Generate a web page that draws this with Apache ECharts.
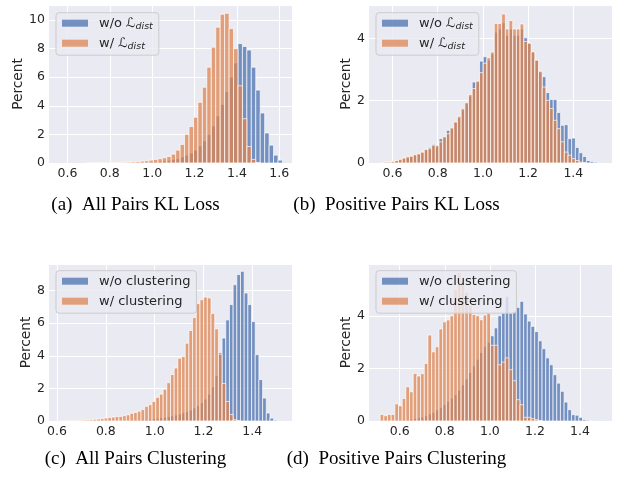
<!DOCTYPE html>
<html><head><meta charset="utf-8">
<script src="https://cdn.jsdelivr.net/npm/echarts@6/dist/echarts.min.js"></script>
<style>html,body{margin:0;padding:0;background:#fff}#c{width:641px;height:483px}</style>
</head><body><div id="c"></div>
<script>
// ---------- data (histogram bins: first bin left edge + bin width, then percent per bin) ----------
const aBinStart = 0.565, aBinWidth = 0.021;
const aWithout = [0,0,0,0,0,0,0,0.01,0.01,0.01, 0.01,0.01,0.01,0.02,0.02,0.02,0.03,0.03,0.04,0.05, 0.07,0.09,0.12,0.15,0.19,0.25,0.32,0.42,0.55,0.7, 0.9,1.2,1.55,2.0,2.6,3.3,4.1,5.0,6.0,7.0, 8.35,8.15,7.9,6.7,5.1,3.5,2.1,1.25,0.55,0.2, 0.05];
const aWith = [0,0,0,0,0,0,0.005,0.005,0.01,0.01, 0.015,0.02,0.03,0.04,0.05,0.06,0.08,0.1,0.13,0.16, 0.2,0.25,0.3,0.36,0.45,0.62,0.9,1.3,2.0,2.55, 3.2,4.25,5.3,6.7,8.1,9.5,10.4,10.47,9.4,8.0, 5.4,3.1,1.15,0.25,0.03,0,0,0,0,0, 0];

const bBinStart = 0.545, bBinWidth = 0.0163;
const bWithout = [0.01,0.02,0.03,0.04,0.07,0.1,0.15,0.18,0.21,0.25, 0.28,0.33,0.42,0.5,0.6,0.57,0.78,0.84,1.05,1.1, 1.3,1.45,1.7,1.9,2.15,2.6,2.6,3.27,3.41,3.3, 3.5,4.2,4.3,4.5,4.1,4.3,4.1,4.1,4.3,4.02, 3.85,3.55,3.3,2.95,2.77,2.26,2.04,2.04,1.62,1.21, 1.23,0.78,0.8,0.5,0.33,0.21,0.08,0.05,0.03,0.01];
const bWith = [0.02,0.03,0.03,0.05,0.08,0.12,0.16,0.2,0.22,0.27, 0.3,0.35,0.44,0.46,0.57,0.55,0.68,0.84,0.94,1.13, 1.32,1.5,1.75,1.94,2.2,2.39,2.63,2.9,3.2,3.38, 3.56,4.48,4.48,4.78,4.3,4.57,4.3,4.3,4.46,3.9, 3.84,3.57,3.3,2.93,2.44,2.01,1.75,1.37,1.1,0.68, 0.35,0.25,0.14,0.08,0.03,0.01,0,0,0,0];

const cBinStart = 0.612, cBinWidth = 0.0151;
const cWithout = [0,0,0,0,0.01,0.01,0.01,0.01,0.01,0.01, 0.01,0.02,0.02,0.02,0.02,0.03,0.03,0.04,0.05,0.06, 0.07,0.08,0.09,0.1,0.12,0.14,0.17,0.2,0.23,0.27, 0.32,0.37,0.43,0.5,0.58,0.68,0.8,0.95,1.12,1.35, 1.65,2.1,2.8,4.2,5.09,6.2,7.14,8.36,8.98,9.18, 7.85,7.14,6.1,4.07,2.54,1.41,0.49,0.18,0.05,0.01];
const cWith = [0.01,0.01,0.02,0.02,0.03,0.04,0.05,0.06,0.08,0.1, 0.12,0.15,0.18,0.21,0.24,0.27,0.28,0.33,0.38,0.47, 0.52,0.6,0.7,0.9,1.0,1.2,1.45,1.65,1.95,2.35, 2.85,3.25,3.85,3.95,4.77,5.55,6.35,7.2,7.44,7.6, 7.55,6.6,5.65,4.1,2.3,1.2,0.4,0.08,0.02,0, 0,0,0,0,0,0,0,0,0,0];

const dBinStart = 0.513, dBinWidth = 0.01633;
const dWithout = [0,0,0.01,0.01,0.02,0.03,0.04,0.05,0.07,0.09, 0.12,0.15,0.2,0.27,0.33,0.42,0.52,0.62,0.75,0.87, 1.0,1.18,1.38,1.6,1.85,2.1,2.35,2.6,2.84,3.0, 3.24,3.54,4.0,4.1,4.74,4.1,4.17,4.32,4.55,4.07, 3.8,3.6,3.4,3.05,2.75,2.4,2.14,1.76,1.44,1.13, 0.72,0.43,0.24,0.22,0.14,0.05,0.03,0.01,0,0];
const dWith = [0.25,0.2,0.25,0.25,0.65,0.58,0.86,1.3,1.11,1.81, 1.71,1.8,2.19,3.27,2.63,2.82,3.5,3.77,3.84,4.0, 5.0,5.65,5.2,4.9,4.4,4.05,4.0,3.85,4.03,4.1, 2.88,2.88,2.14,2.24,2.4,1.95,1.53,0.81,0.62,0.14, 0.14,0.09,0.05,0.02,0,0,0,0,0,0, 0,0,0,0,0,0,0,0,0,0];

const xTicksA = [0.6, 0.8, 1.0, 1.2, 1.4, 1.6];
const xTicksBCD = [0.6, 0.8, 1.0, 1.2, 1.4];
const namesKL = ['w/o ℒdist', 'w/ ℒdist'];
const namesCl = ['w/o clustering', 'w/ clustering'];
const captions = ['(a)\u2002All Pairs KL Loss', '(b)\u2002Positive Pairs KL Loss', '(c)\u2002All Pairs Clustering', '(d)\u2002Positive Pairs Clustering'];
const yAxisName = 'Percent';

// ---------- layout ----------
const BLUE = 'rgba(76,114,176,0.75)', ORANGE = 'rgba(221,132,82,0.75)';
const TXT = '#262626', FONT = 'DejaVu Sans';
const panels = [
  {grid:{left:49, top:5, width:243, height:158}, xMin:0.513, xMax:1.66, yMax:11.05, start:aBinStart, bw:aBinWidth, wo:aWithout, w:aWith, names:namesKL, ticks:xTicksA, nameGap:23, legend:[56,12.7], cap:[135.5,205]},
  {grid:{left:369, top:5, width:243, height:158}, xMin:0.496, xMax:1.571, yMax:5.07, start:bBinStart, bw:bBinWidth, wo:bWithout, w:bWith, names:namesKL, ticks:xTicksBCD, nameGap:14, legend:[376,12.7], cap:[396.5,205]},
  {grid:{left:49, top:264, width:243, height:157}, xMin:0.567, xMax:1.563, yMax:9.63, start:cBinStart, bw:cBinWidth, wo:cWithout, w:cWith, names:namesCl, ticks:xTicksBCD, nameGap:14, legend:[56,270.7], cap:[135.5,459]},
  {grid:{left:369, top:264, width:243, height:157}, xMin:0.4636, xMax:1.542, yMax:5.97, start:dBinStart, bw:dBinWidth, wo:dWithout, w:dWith, names:namesCl, ticks:xTicksBCD, nameGap:14, legend:[376,270.7], cap:[396.5,459]}
];

function histSeries(name, vals, start, bw, color, k) {
  return {
    type: 'custom', name: name, xAxisIndex: k, yAxisIndex: k, clip: true,
    itemStyle: {color: color},
    encode: {x: 0, y: 1},
    data: vals.map((v, i) => [start + bw * (i + 0.5), v]),
    renderItem: function (params, api) {
      const c = api.value(0), h = api.value(1);
      if (!(h > 0)) return null;
      const p0 = api.coord([c - bw / 2, h]);
      const p1 = api.coord([c + bw / 2, 0]);
      return {type: 'rect', shape: {x: p0[0], y: p0[1], width: p1[0] - p0[0], height: p1[1] - p0[1]},
        style: {fill: api.visual('color'), stroke: 'rgba(255,255,255,0.85)', lineWidth: 0.8}};
    }
  };
}

const option = {animation: false, backgroundColor: '#fff', grid: [], xAxis: [], yAxis: [], series: [], legend: [], graphic: []};
panels.forEach((p, k) => {
  option.grid.push(Object.assign({show: true, backgroundColor: '#EAEAF2', borderWidth: 0, containLabel: false, outerBoundsMode: 'none'}, p.grid));
  option.xAxis.push({type: 'value', gridIndex: k, min: p.xMin, max: p.xMax,
    axisLine: {show: false}, axisTick: {show: false, customValues: p.ticks},
    axisLabel: {customValues: p.ticks, formatter: v => v.toFixed(1), color: TXT, fontFamily: FONT, fontSize: 12.5, margin: 4},
    splitLine: {show: true, lineStyle: {color: '#fff', width: 1}}});
  option.yAxis.push({type: 'value', gridIndex: k, min: 0, max: p.yMax, interval: 2,
    name: yAxisName, nameLocation: 'middle', nameGap: p.nameGap, nameRotate: 90,
    nameTextStyle: {color: TXT, fontFamily: FONT, fontSize: 13.7},
    axisLine: {show: false}, axisTick: {show: false},
    axisLabel: {color: TXT, fontFamily: FONT, fontSize: 12.5, margin: 4, showMaxLabel: false},
    splitLine: {show: true, lineStyle: {color: '#fff', width: 1}}});
  option.series.push(histSeries(p.names[0], p.wo, p.start, p.bw, BLUE, k));
  option.series.push(histSeries(p.names[1], p.w, p.start, p.bw, ORANGE, k));
  option.legend.push({orient: 'vertical', left: p.legend[0], top: p.legend[1], data: p.names.slice(),
    icon: 'rect', itemWidth: 26, itemHeight: 7, itemGap: 4, padding: [2.5, 6, 4, 6], selectedMode: false,
    backgroundColor: 'rgba(234,234,242,0.8)', borderColor: '#cccccc', borderWidth: 1, borderRadius: 3,
    textStyle: {color: TXT, fontFamily: FONT, fontSize: 13, lineHeight: 16, padding: [0, 0, 0, 6],
      rich: {l: {color: TXT, fontFamily: FONT, fontSize: 13, lineHeight: 16},
             s: {color: TXT, fontFamily: FONT, fontSize: 9.5, fontStyle: 'italic', lineHeight: 10, verticalAlign: 'bottom'}}},
    formatter: n => n.indexOf('ℒ') >= 0 ? n.replace('ℒdist', '{l|ℒ}{s|dist}') : n});
  option.graphic.push({type: 'text', x: p.cap[0], y: p.cap[1],
    style: {text: captions[k], fill: '#000', fontFamily: 'Liberation Serif', fontSize: 19, align: 'center', verticalAlign: 'middle'}});
});

const chart = echarts.init(document.getElementById('c'), null, {renderer: 'canvas'});
chart.setOption(option);
</script>
</body></html>
